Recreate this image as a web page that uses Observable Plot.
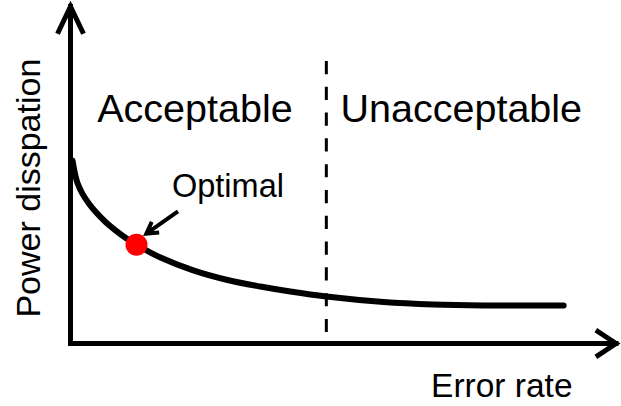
<!DOCTYPE html>
<html>
<head>
<meta charset="utf-8">
<script src="https://cdn.jsdelivr.net/npm/d3@7"></script>
<script src="https://cdn.jsdelivr.net/npm/@observablehq/plot@0.6"></script>
<style>
  html, body { margin: 0; padding: 0; background: #fff; }
  svg { display: block; }
</style>
</head>
<body>
<div id="chart"></div>
<script>
// Power dissipation vs. error rate (schematic curve, arbitrary units 0–100)
const errorRate = [0.37, 0.86, 1.28, 2.2, 3.43, 4.64, 6.47, 8.31, 10.14, 12.1, 16.5, 22.5, 28.8, 34.8, 40.3, 46.9, 57.4, 66.5, 75.7, 90.4];
const power     = [54.3, 50.1, 47.6, 44.4, 41.4, 39.0, 36.0, 33.5, 31.3, 29.3, 25.5, 21.7, 18.84, 16.91, 15.43, 13.95, 12.31, 11.57, 11.28, 11.28];

const optimalPoint = {x: 12.1, y: 29.3};
const threshold = 46.9;
const thresholdSpan = [83.7, 3.26];
const pointerFrom = {x: 19.7, y: 39.2};
const pointerTo = {x: 13.9, y: 32.6};

const regionLabels = ["Acceptable", "Unacceptable"];
const regionLabelX = [4.9, 49.5];
const regionLabelY = 74.1;
const optimalLabel = {text: "Optimal", x: 18.6, y: 50.3};
const xLabel = {text: "Error rate", x: 66.1, y: -8.9};
const yLabel = {text: "Power disspation", x: -10.1, y: 46.1};

const curve = errorRate.map((x, i) => ({x, y: power[i]}));
const font = "'Liberation Sans', Arial, Helvetica, sans-serif";

const chart = Plot.plot({
  width: 621,
  height: 406,
  marginLeft: 70,
  marginRight: 5.5,
  marginTop: 6,
  marginBottom: 63,
  x: {domain: [0, 100], axis: null},
  y: {domain: [0, 100], axis: null},
  style: {background: "#fff", fontFamily: font, overflow: "visible"},
  marks: [
    // axes with arrowheads
    Plot.arrow([{x1: 0, y1: 0, x2: 0, y2: 100}], {
      x1: "x1", y1: "y1", x2: "x2", y2: "y2",
      stroke: "#000", strokeWidth: 5, headLength: 8.3, headAngle: 51,
      strokeLinecap: "square", strokeLinejoin: "miter", strokeMiterlimit: 10
    }),
    Plot.arrow([{x1: 0, y1: 0, x2: 100, y2: 0}], {
      x1: "x1", y1: "y1", x2: "x2", y2: "y2",
      stroke: "#000", strokeWidth: 5, headLength: 6.5, headAngle: 67,
      strokeLinecap: "square", strokeLinejoin: "miter", strokeMiterlimit: 10
    }),
    // threshold
    Plot.ruleX([threshold], {
      y1: thresholdSpan[0], y2: thresholdSpan[1],
      stroke: "#000", strokeWidth: 3, strokeDasharray: "13.2,12.6"
    }),
    // curve
    Plot.line(curve, {x: "x", y: "y", curve: "catmull-rom", stroke: "#000", strokeWidth: 6}),
    // optimal point
    Plot.dot([optimalPoint], {x: "x", y: "y", r: 11, fill: "#ff0000", stroke: "none"}),
    // pointer
    Plot.arrow([{x1: pointerFrom.x, y1: pointerFrom.y, x2: pointerTo.x, y2: pointerTo.y}], {
      x1: "x1", y1: "y1", x2: "x2", y2: "y2",
      stroke: "#000", strokeWidth: 4, headLength: 6, headAngle: 60,
      strokeLinecap: "butt", strokeLinejoin: "miter", strokeMiterlimit: 10
    }),
    // labels
    Plot.text(regionLabels, {
      x: (d, i) => regionLabelX[i], y: () => regionLabelY, text: d => d,
      textAnchor: "start", lineAnchor: "top", fontSize: 39.5, fill: "#000"
    }),
    Plot.text([optimalLabel], {
      x: "x", y: "y", text: "text",
      textAnchor: "start", lineAnchor: "top", fontSize: 32.5, fill: "#000"
    }),
    Plot.text([xLabel], {
      x: "x", y: "y", text: "text",
      textAnchor: "start", lineAnchor: "top", fontSize: 33.5, fill: "#000"
    }),
    Plot.text([yLabel], {
      x: "x", y: "y", text: "text", rotate: -90,
      textAnchor: "middle", lineAnchor: "top", fontSize: 34, fill: "#000"
    })
  ]
});
document.getElementById("chart").append(chart);
</script>
</body>
</html>
